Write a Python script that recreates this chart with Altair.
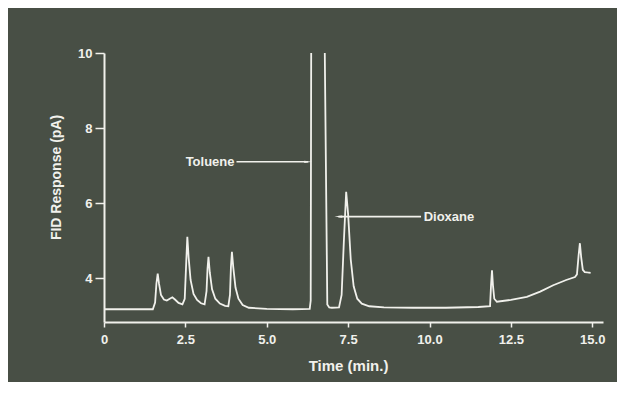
import altair as alt
import pandas as pd

# ---- chromatogram trace (time in min, FID response in pA) ----
time_min = [
    0.00, 1.50, 1.57, 1.61, 1.65, 1.69, 1.75, 1.84, 1.93, 2.02, 2.10, 2.18, 2.29, 2.41,
    2.48, 2.53, 2.56, 2.60, 2.66, 2.75, 2.86, 2.98, 3.09,
    3.15, 3.18, 3.21, 3.25, 3.32, 3.42, 3.56, 3.72, 3.82,
    3.87, 3.90, 3.93, 3.97, 4.04, 4.13, 4.26, 4.45, 5.00, 5.80, 6.32,
    6.35, 6.37, 6.76, 6.86, 6.92, 7.00, 7.22,
    7.30, 7.37, 7.44, 7.50, 7.58, 7.67, 7.78, 7.92, 8.15, 8.60, 9.50, 10.50, 11.50,
    11.86, 11.89, 11.92, 11.95, 11.99, 12.07, 12.50, 12.99, 13.40, 13.80, 14.20, 14.47,
    14.53, 14.58, 14.62, 14.66, 14.71, 14.77, 14.85, 14.95,
]
fid_pa = [
    3.17, 3.17, 3.35, 3.85, 4.12, 3.85, 3.55, 3.43, 3.40, 3.45, 3.49, 3.43, 3.34, 3.30,
    3.45, 4.50, 5.10, 4.55, 3.95, 3.58, 3.42, 3.33, 3.30,
    3.65, 4.25, 4.57, 4.15, 3.70, 3.45, 3.32, 3.26, 3.25,
    3.55, 4.30, 4.70, 4.30, 3.75, 3.45, 3.28, 3.21, 3.18, 3.17, 3.18,
    3.40, 12.0, 12.0, 3.30, 3.22, 3.21, 3.22,
    3.55, 5.00, 6.30, 5.70, 4.50, 3.78, 3.45, 3.32, 3.25, 3.22, 3.21, 3.21, 3.23,
    3.25, 3.80, 4.21, 3.80, 3.45, 3.37, 3.42, 3.50, 3.64, 3.81, 3.95, 4.03,
    4.10, 4.60, 4.93, 4.55, 4.22, 4.16, 4.15, 4.14,
]

x_ticks = [0, 2.5, 5.0, 7.5, 10.0, 12.5, 15.0]
y_ticks = [4, 6, 8, 10]

# ---- peak annotations ----
label_names = ["Toluene", "Dioxane"]
label_time = [4.04, 9.79]
label_value = [7.10, 5.64]
arrow_start = [4.07, 9.74]
arrow_tip = [6.27, 7.20]

trace = pd.DataFrame({"t": time_min, "v": fid_pa})
labels = pd.DataFrame({
    "name": label_names, "t": label_time, "v": label_value,
    "a0": arrow_start, "a1": arrow_tip,
})

FG = "#f1f1ec"
BG = "#484f45"
FONT = "Liberation Sans"

xscale = alt.Scale(domain=[0, 15.33], nice=False, zero=False)
yscale = alt.Scale(domain=[2.83, 10], nice=False, zero=False)

xaxis = alt.Axis(
    values=x_ticks, title="Time (min.)",
    labelExpr="datum.value == 0 ? '0' : format(datum.value, '.1f')",
    labelFlush=False, tickSize=5, labelPadding=6,
    titleX=244, titleY=43, titleBaseline="middle", titleFontSize=15,
)
yaxis = alt.Axis(
    values=y_ticks, title="FID Response (pA)",
    tickSize=9, labelPadding=3,
    titleX=-48, titleY=124, titleBaseline="middle", titleAngle=-90, titleFontSize=14,
)

line = alt.Chart(trace).mark_line(color=FG, strokeWidth=1.8, clip=True).encode(
    x=alt.X("t:Q", scale=xscale, axis=xaxis),
    y=alt.Y("v:Q", scale=yscale, axis=yaxis),
)

arrows = alt.Chart(labels).mark_rule(color=FG, strokeWidth=1.6).encode(
    x=alt.X("a0:Q", scale=xscale),
    x2="a1:Q",
    y=alt.Y("v:Q", scale=yscale),
)

head_right = "M-1,-0.28L1,0L-1,0.28Z"
head_left = "M1,-0.28L-1,0L1,0.28Z"
heads = alt.Chart(labels).mark_point(filled=True, color=FG, opacity=1, size=60).encode(
    x=alt.X("a1:Q", scale=xscale),
    y=alt.Y("v:Q", scale=yscale),
    shape=alt.Shape("name:N", scale=alt.Scale(domain=label_names, range=[head_right, head_left]), legend=None),
)

text_left = alt.Chart(labels).transform_filter(alt.datum.name == "Toluene").mark_text(
    align="right", baseline="middle", color=FG, font=FONT, fontSize=13, fontWeight="bold", dx=-1
).encode(x=alt.X("t:Q", scale=xscale), y=alt.Y("v:Q", scale=yscale), text="name:N")

text_right = alt.Chart(labels).transform_filter(alt.datum.name == "Dioxane").mark_text(
    align="left", baseline="middle", color=FG, font=FONT, fontSize=13, fontWeight="bold", dx=1
).encode(x=alt.X("t:Q", scale=xscale), y=alt.Y("v:Q", scale=yscale), text="name:N")

chart = alt.layer(line, arrows, heads, text_left, text_right).properties(
    width=499, height=269,
    autosize=alt.AutoSizeParams(type="none"),
    padding={"left": 96, "top": 45, "right": 14, "bottom": 60},
    background=BG,
).configure_view(stroke=None).configure_axis(
    domainColor=FG, domainWidth=2, tickColor=FG, tickWidth=1.5,
    labelColor=FG, titleColor=FG, labelFont=FONT, titleFont=FONT,
    labelFontSize=13, labelFontWeight="bold", grid=False, titleFontWeight="bold",
)

chart.save("out.html", embed_options={"renderer": "svg", "actions": False})
